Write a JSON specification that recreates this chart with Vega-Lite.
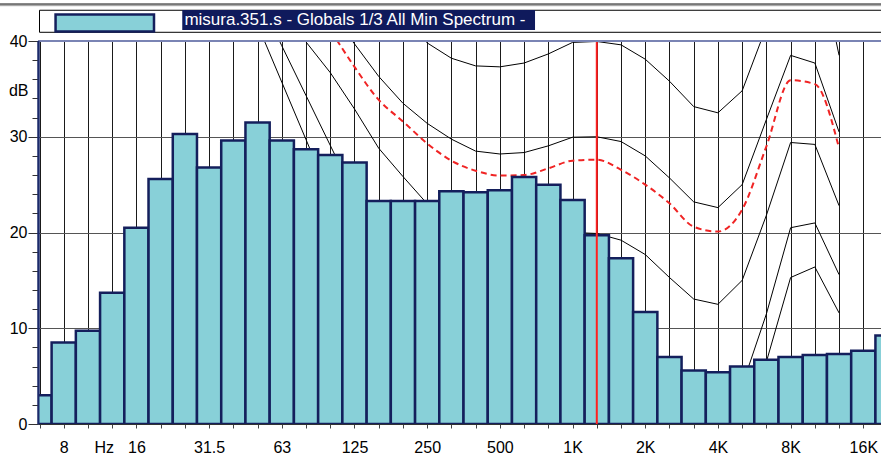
{
  "$schema": "https://vega.github.io/schema/vega-lite/v6.json",
  "width": 843,
  "height": 383,
  "autosize": "none",
  "padding": {"left": 38, "top": 41, "right": 0, "bottom": 31},
  "background": "white",
  "config": {"font": "Liberation Sans", "view": {"stroke": null}},
  "resolve": {"axis": {"y": "independent"}},
  "datasets": {
    "series": [{"name": "misura.351.s - Globals 1/3 All Min Spectrum -", "cursor": 1259}],
    "spectrum": [
      {"band":"6.3","f":6.310,"lo":5.623,"hi":7.079,"level":3.0},
      {"band":"8","f":7.943,"lo":7.079,"hi":8.913,"level":8.5},
      {"band":"10","f":10.00,"lo":8.913,"hi":11.22,"level":9.75},
      {"band":"12.5","f":12.59,"lo":11.22,"hi":14.13,"level":13.7},
      {"band":"16","f":15.85,"lo":14.13,"hi":17.78,"level":20.5},
      {"band":"20","f":19.95,"lo":17.78,"hi":22.39,"level":25.6},
      {"band":"25","f":25.12,"lo":22.39,"hi":28.18,"level":30.3},
      {"band":"31.5","f":31.62,"lo":28.18,"hi":35.48,"level":26.8},
      {"band":"40","f":39.81,"lo":35.48,"hi":44.67,"level":29.6,"c0":47.7},
      {"band":"50","f":50.12,"lo":44.67,"hi":56.23,"level":31.5,"c0":41.7,"c10":44.7},
      {"band":"63","f":63.10,"lo":56.23,"hi":70.79,"level":29.6,"c0":35.7,"c10":39.5,"c20":43.7},
      {"band":"80","f":79.43,"lo":70.79,"hi":89.13,"level":28.7,"c0":29.7,"c10":34.3,"c20":39.9,"loud":45.5},
      {"band":"100","f":100.0,"lo":89.13,"hi":112.2,"level":28.1,"c0":23.7,"c10":29.1,"c20":36.7,"c30":43.0,"loud":41.2},
      {"band":"125","f":125.9,"lo":112.2,"hi":141.3,"level":27.3,"c0":19.0,"c10":23.9,"c20":32.9,"c30":39.7,"loud":37.3},
      {"band":"160","f":158.5,"lo":141.3,"hi":177.8,"level":23.3,"c0":15.0,"c10":20.0,"c20":28.8,"c30":36.3,"loud":33.85},
      {"band":"200","f":199.5,"lo":177.8,"hi":223.9,"level":23.3,"c0":12.0,"c10":17.0,"c20":25.85,"c30":33.5,"c40":43.0,"loud":31.6},
      {"band":"250","f":251.2,"lo":223.9,"hi":281.8,"level":23.3,"c0":9.5,"c10":15.0,"c20":23.0,"c30":31.4,"c40":39.8,"loud":29.3},
      {"band":"315","f":316.2,"lo":281.8,"hi":354.8,"level":24.3,"c0":7.5,"c10":13.5,"c20":22.2,"c30":29.75,"c40":38.2,"loud":27.5},
      {"band":"400","f":398.1,"lo":354.8,"hi":446.7,"level":24.2,"c0":6.0,"c10":12.5,"c20":21.5,"c30":28.5,"c40":37.4,"loud":26.45},
      {"band":"500","f":501.2,"lo":446.7,"hi":562.3,"level":24.4,"c0":4.5,"c10":11.5,"c20":21.0,"c30":28.2,"c40":37.3,"loud":25.95},
      {"band":"630","f":631.0,"lo":562.3,"hi":707.9,"level":25.8,"c0":3.5,"c10":11.0,"c20":20.6,"c30":28.35,"c40":37.7,"loud":26.0},
      {"band":"800","f":794.3,"lo":707.9,"hi":891.3,"level":25.0,"c0":2.5,"c10":10.5,"c20":20.3,"c30":29.05,"c40":38.65,"loud":26.7},
      {"band":"1000","f":1000,"lo":891.3,"hi":1122,"level":23.4,"c0":2.0,"c10":10.0,"c20":20.0,"c30":29.95,"c40":39.85,"loud":27.5},
      {"band":"1250","f":1259,"lo":1122,"hi":1413,"level":19.7,"c0":2.0,"c10":10.0,"c20":19.9,"c30":30.0,"c40":39.95,"loud":27.6},
      {"band":"1600","f":1585,"lo":1413,"hi":1778,"level":17.3,"c0":1.0,"c10":9.5,"c20":19.2,"c30":29.5,"c40":39.6,"loud":26.55},
      {"band":"2000","f":1995,"lo":1778,"hi":2239,"level":11.7,"c0":-0.5,"c10":8.0,"c20":17.7,"c30":28.0,"c40":38.1,"loud":25.0},
      {"band":"2500","f":2512,"lo":2239,"hi":2818,"level":7.0,"c0":-2.5,"c10":5.5,"c20":15.3,"c30":25.7,"c40":35.8,"loud":23.05},
      {"band":"3150","f":3162,"lo":2818,"hi":3548,"level":5.6,"c0":-4.0,"c10":3.5,"c20":13.05,"c30":23.2,"c40":33.15,"loud":20.6},
      {"band":"4000","f":3981,"lo":3548,"hi":4467,"level":5.4,"c0":-4.0,"c10":3.0,"c20":12.5,"c30":22.6,"c40":32.5,"loud":20.1},
      {"band":"5000","f":5012,"lo":4467,"hi":5623,"level":6.0,"c0":-1.0,"c10":4.0,"c20":15.0,"c30":25.0,"c40":34.8,"loud":22.4},
      {"band":"6300","f":6310,"lo":5623,"hi":7079,"level":6.7,"c0":6.5,"c10":11.5,"c20":21.8,"c30":31.8,"c40":41.5,"loud":29.0},
      {"band":"8000","f":7943,"lo":7079,"hi":8913,"level":7.0,"c0":15.3,"c10":20.5,"c20":29.4,"c30":38.5,"c40":48.5,"loud":35.9},
      {"band":"10000","f":10000,"lo":8913,"hi":11220,"level":7.2,"c0":16.4,"c10":21.0,"c20":29.2,"c30":37.7,"c40":50.5,"loud":35.5},
      {"band":"12500","f":12589,"lo":11220,"hi":14125,"level":7.3,"c0":11.6,"c10":15.6,"c20":22.8,"c30":30.5,"c40":38.5,"loud":28.8},
      {"band":"16000","f":15849,"lo":14125,"hi":17783,"level":7.65},
      {"band":"20000","f":19953,"lo":17783,"hi":22387,"level":9.25}
    ]
  },
  "data": {"name": "spectrum"},
  "layer": [
    {
      "transform": [
        {"fold": ["c0", "c10", "c20", "c30", "c40"], "as": ["curve", "val"]},
        {"filter": "isValid(datum.val)"}
      ],
      "mark": {"type": "line", "color": "black", "strokeWidth": 1, "clip": true},
      "encoding": {
        "x": {"field": "f", "type": "quantitative",
          "scale": {"type": "log", "domain": [6.22, 18750], "nice": false, "padding": 0},
          "axis": {
            "title": null,
            "values": [6.31,7.943,10,12.59,15.85,19.95,25.12,31.62,39.81,50.12,63.1,79.43,100,125.9,158.5,199.5,251.2,316.2,398.1,501.2,631,794.3,1000,1259,1585,1995,2512,3162,3981,5012,6310,7943,10000,12589,15849],
            "labelExpr": "['','8','','Hz','16','','','31.5','','','63','','','125','','','250','','','500','','','1K','','','2K','','','4K','','','8K','','','16K'][round(10*log(datum.value)/LN10-8)]",
            "grid": true, "gridColor": "#1a1a1a", "gridWidth": 1,
            "tickSize": 4, "tickColor": "#444",
            "domainColor": "#333",
            "labelFontSize": 16, "labelColor": "black", "labelPadding": 11,
            "labelFlush": false, "labelOverlap": false,
            "labelOffset": {"condition": {"test": "datum.value > 12 && datum.value < 13", "value": -8.5}, "value": 0}
          }
        },
        "y": {"field": "val", "type": "quantitative",
          "scale": {"domain": [0, 40], "nice": false, "padding": 0},
          "axis": {
            "orient": "left",
            "title": "dB",
            "titleAngle": 0, "titleAlign": "right", "titleBaseline": "middle",
            "titleX": -10, "titleY": 49, "titleFontSize": 16, "titleFontWeight": "normal", "titleColor": "black",
            "values": [0, 10, 20, 30, 40],
            "tickSize": 10,
            "grid": true, "gridColor": "#555", "gridWidth": 1,
            "domainColor": "#1b2a6b", "domainWidth": 2,
            "tickColor": "#333",
            "labelFontSize": 16, "labelColor": "black", "labelPadding": 1,
            "labelFlush": false, "labelOverlap": false
          }
        },
        "detail": {"field": "curve"}
      }
    },
    {
      "transform": [{"filter": "isValid(datum.loud)"}],
      "mark": {"type": "line", "color": "#f02424", "strokeWidth": 2, "strokeDash": [6, 4], "interpolate": "monotone", "clip": true},
      "encoding": {
        "x": {"field": "f", "type": "quantitative"},
        "y": {"field": "loud", "type": "quantitative", "axis": null}
      }
    },
    {
      "mark": {"type": "bar", "clip": true, "fill": "#88d0d8", "stroke": "#141f5c", "strokeWidth": 2.5, "orient": "vertical"},
      "encoding": {
        "x": {"field": "lo", "type": "quantitative"},
        "x2": {"field": "hi"},
        "y": {"field": "level", "type": "quantitative",
          "axis": {
            "orient": "left", "title": null,
            "values": [2,4,6,8,12,14,16,18,22,24,26,28,32,34,36,38],
            "labels": false, "domain": false, "grid": false,
            "tickSize": 6, "tickColor": "#333"
          }
        },
        "y2": {"datum": 0}
      }
    },
    {
      "data": {"name": "series"},
      "mark": {"type": "rule", "color": "#ff2020", "strokeWidth": 2},
      "encoding": {
        "x": {"field": "cursor", "type": "quantitative"}
      }
    },
    {
      "data": {"name": "series"},
      "mark": {"type": "rule", "color": "#7a84b4", "strokeWidth": 2},
      "encoding": {
        "x": {"datum": 6.22, "type": "quantitative"},
        "x2": {"datum": 18750},
        "y": {"datum": 40, "type": "quantitative", "axis": null}
      }
    },
    {
      "data": {"name": "series"},
      "mark": {"type": "rule", "color": "#1b2a6b", "strokeWidth": 2},
      "encoding": {
        "x": {"datum": 6.25, "type": "quantitative"}
      }
    },
    {
      "data": {"name": "series"},
      "mark": {"type": "rule", "color": "black", "strokeWidth": 1, "clip": false},
      "encoding": {
        "x": {"datum": 4.3, "type": "quantitative"},
        "x2": {"datum": 25000},
        "y": {"datum": 43.86, "type": "quantitative", "axis": null}
      }
    },
    {
      "data": {"name": "series"},
      "mark": {"type": "rule", "color": "#999", "strokeWidth": 1, "clip": false},
      "encoding": {
        "x": {"datum": 4.3, "type": "quantitative"},
        "x2": {"datum": 25000},
        "y": {"datum": 43.69, "type": "quantitative", "axis": null}
      }
    },
    {
      "data": {"name": "series"},
      "mark": {"type": "rect", "fill": "white", "stroke": "black", "strokeWidth": 1, "clip": false},
      "encoding": {
        "x": {"datum": 6.31, "type": "quantitative"},
        "x2": {"datum": 25000},
        "y": {"datum": 43.21, "type": "quantitative", "axis": null},
        "y2": {"datum": 40.91}
      }
    },
    {
      "data": {"name": "series"},
      "mark": {"type": "rect", "fill": "#88d0d8", "stroke": "#141f5c", "strokeWidth": 2.5, "clip": false},
      "encoding": {
        "x": {"datum": 7.35, "type": "quantitative"},
        "x2": {"datum": 18.73},
        "y": {"datum": 42.77, "type": "quantitative", "axis": null},
        "y2": {"datum": 40.99}
      }
    },
    {
      "data": {"name": "series"},
      "mark": {"type": "rect", "fill": "#0f1a5c", "clip": false},
      "encoding": {
        "x": {"datum": 24.5, "type": "quantitative"},
        "x2": {"datum": 700},
        "y": {"datum": 43.24, "type": "quantitative", "axis": null},
        "y2": {"datum": 41.15}
      }
    },
    {
      "data": {"name": "series"},
      "mark": {"type": "text", "color": "white", "fontSize": 17, "align": "left", "baseline": "middle", "clip": false},
      "encoding": {
        "x": {"datum": 25.0, "type": "quantitative"},
        "y": {"datum": 42.2, "type": "quantitative", "axis": null},
        "text": {"field": "name"}
      }
    }
  ]
}
